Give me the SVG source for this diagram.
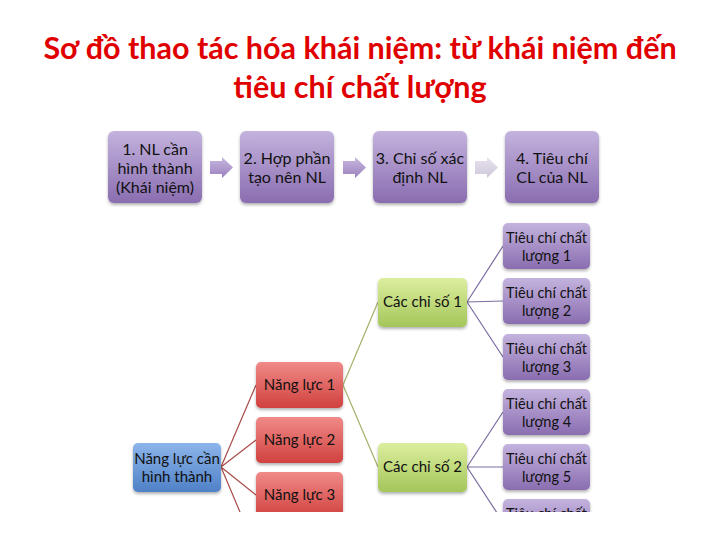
<svg xmlns="http://www.w3.org/2000/svg" width="720" height="540" viewBox="0 0 720 540">
<defs>
<linearGradient id="gP" x1="0" y1="0" x2="0" y2="1"><stop offset="0" stop-color="#c3b3de"/><stop offset="1" stop-color="#8a6db0"/></linearGradient>
<linearGradient id="gR" x1="0" y1="0" x2="0" y2="1"><stop offset="0" stop-color="#f08a88"/><stop offset="1" stop-color="#d0413e"/></linearGradient>
<linearGradient id="gG" x1="0" y1="0" x2="0" y2="1"><stop offset="0" stop-color="#dcee9e"/><stop offset="1" stop-color="#a4c65a"/></linearGradient>
<linearGradient id="gB" x1="0" y1="0" x2="0" y2="1"><stop offset="0" stop-color="#8db5ea"/><stop offset="1" stop-color="#4f81c7"/></linearGradient>
<linearGradient id="gA" x1="0" y1="0" x2="0" y2="1"><stop offset="0" stop-color="#c9b9e0"/><stop offset="1" stop-color="#9a80bd"/></linearGradient>
<linearGradient id="gA2" x1="0" y1="0" x2="0" y2="1"><stop offset="0" stop-color="#e8e3ee"/><stop offset="1" stop-color="#cfc7da"/></linearGradient>
<filter id="sh" x="-10%" y="-10%" width="130%" height="140%"><feDropShadow dx="0" dy="2" stdDeviation="1.5" flood-color="#000" flood-opacity="0.3"/></filter>
<clipPath id="clip"><rect x="0" y="0" width="720" height="512"/></clipPath>
</defs>
<style>
text{font-family:Lato,"Open Sans","Liberation Sans",sans-serif;fill:#111;text-anchor:middle}
.t{font-size:30.5px;fill:#e00000;font-weight:bold}
.s{font-size:16px}
.n{font-size:15px}
.c{font-size:14.5px}
.box{filter:url(#sh)}
.cr{stroke:#a84a48;stroke-width:1.2;fill:none}
.cg{stroke:#a7b06a;stroke-width:1.2;fill:none}
.cp{stroke:#7c6aa0;stroke-width:1.2;fill:none}
</style>
<rect width="720" height="540" fill="#fff"/>
<g id="title">
<text class="t" x="360" y="59">Sơ đồ thao tác hóa khái niệm: từ khái niệm đến</text>
<text class="t" x="360" y="98">tiêu chí chất lượng</text>
</g>
<g id="step1"><rect class="box" x="108" y="131" width="94" height="72" rx="6" fill="url(#gP)"/>
<text class="s" x="155" y="155">1. NL cần</text><text class="s" x="155" y="174">hình thành</text><text class="s" x="155" y="193">(Khái niệm)</text></g>
<g id="step2"><rect class="box" x="240" y="131" width="94" height="72" rx="6" fill="url(#gP)"/>
<text class="s" x="287" y="164">2. Hợp phần</text><text class="s" x="287" y="183">tạo nên NL</text></g>
<g id="step3"><rect class="box" x="373" y="131" width="94" height="72" rx="6" fill="url(#gP)"/>
<text class="s" x="420" y="164">3. Chỉ số xác</text><text class="s" x="420" y="183">định NL</text></g>
<g id="step4"><rect class="box" x="505" y="131" width="94" height="72" rx="6" fill="url(#gP)"/>
<text class="s" x="552" y="164">4. Tiêu chí</text><text class="s" x="552" y="183">CL của NL</text></g>
<g id="arrows">
<path d="M210 161 H222 V157 L233 167.5 L222 178 V174 H210 Z" fill="url(#gA)"/>
<path d="M343 161 H355 V157 L366 167.5 L355 178 V174 H343 Z" fill="url(#gA)"/>
<path d="M475 161 H487 V157 L498 167.5 L487 178 V174 H475 Z" fill="url(#gA2)"/>
</g>
<g clip-path="url(#clip)">
<g id="connectors">
<path class="cr" d="M221 467 L256 385 M221 467 L256 440 M221 467 L256 495 M221 467 L256 550"/>
<path class="cg" d="M343 385 L378 302 M343 385 L378 467"/>
<path class="cp" d="M467 302 L503 246 M467 302 L503 301 M467 302 L503 357 M467 467 L503 412 M467 467 L503 467 M467 467 L503 522"/>
</g>
<g id="root"><rect class="box" x="133" y="443" width="88" height="49" rx="5" fill="url(#gB)"/>
<text class="n" x="177" y="464">Năng lực cần</text><text class="n" x="177" y="482">hình thành</text></g>
<g id="nl1"><rect class="box" x="256" y="362" width="87" height="46" rx="5" fill="url(#gR)"/><text class="n" x="299.5" y="390">Năng lực 1</text></g>
<g id="nl2"><rect class="box" x="256" y="417" width="87" height="46" rx="5" fill="url(#gR)"/><text class="n" x="299.5" y="445">Năng lực 2</text></g>
<g id="nl3"><rect class="box" x="256" y="472" width="87" height="46" rx="5" fill="url(#gR)"/><text class="n" x="299.5" y="500">Năng lực 3</text></g>
<g id="cs1"><rect class="box" x="378" y="278" width="89" height="49" rx="5" fill="url(#gG)"/><text class="n" x="422.5" y="307">Các chỉ số 1</text></g>
<g id="cs2"><rect class="box" x="378" y="443" width="89" height="49" rx="5" fill="url(#gG)"/><text class="n" x="422.5" y="472">Các chỉ số 2</text></g>
<g id="tc1"><rect class="box" x="503" y="223" width="87" height="46" rx="5" fill="url(#gP)"/><text class="c" x="546.5" y="243">Tiêu chí chất</text><text class="c" x="546.5" y="261">lượng 1</text></g>
<g id="tc2"><rect class="box" x="503" y="278" width="87" height="46" rx="5" fill="url(#gP)"/><text class="c" x="546.5" y="298">Tiêu chí  chất</text><text class="c" x="546.5" y="316">lượng 2</text></g>
<g id="tc3"><rect class="box" x="503" y="334" width="87" height="46" rx="5" fill="url(#gP)"/><text class="c" x="546.5" y="354">Tiêu chí  chất</text><text class="c" x="546.5" y="372">lượng 3</text></g>
<g id="tc4"><rect class="box" x="503" y="389" width="87" height="46" rx="5" fill="url(#gP)"/><text class="c" x="546.5" y="409">Tiêu chí  chất</text><text class="c" x="546.5" y="427">lượng 4</text></g>
<g id="tc5"><rect class="box" x="503" y="444" width="87" height="46" rx="5" fill="url(#gP)"/><text class="c" x="546.5" y="464">Tiêu chí  chất</text><text class="c" x="546.5" y="482">lượng 5</text></g>
<g id="tc6"><rect class="box" x="503" y="499" width="87" height="46" rx="5" fill="url(#gP)"/><text class="c" x="546.5" y="519">Tiêu chí  chất</text><text class="c" x="546.5" y="537">lượng 6</text></g>
</g>
</svg>
